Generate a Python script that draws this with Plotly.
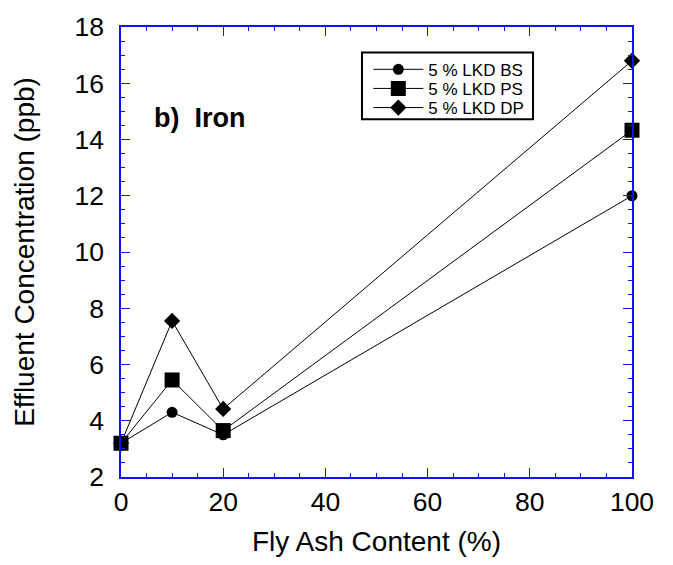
import plotly.graph_objects as go

# Fly ash content (%) on the x axis
fly_ash = [0, 10, 20, 100]

# Effluent iron concentration (ppb) for each LKD blend
lkd_bs = [3.2, 4.3, 3.5, 12.0]
lkd_ps = [3.2, 5.45, 3.65, 14.33]
lkd_dp = [3.2, 7.55, 4.42, 16.8]

series_names = ["5 % LKD BS", "5 % LKD PS", "5 % LKD DP"]

FONT = "Liberation Sans, Arial, sans-serif"
AXIS_BLUE = "#1010ff"

fig = go.Figure()

# one legend per series so the rows can sit close together inside one frame
styles = [
    (lkd_bs, "circle", 11, "legend"),
    (lkd_ps, "square", 15, "legend2"),
    (lkd_dp, "diamond", 12.5, "legend3"),
]
for name, (vals, symbol, size, leg) in zip(series_names, styles):
    fig.add_trace(go.Scatter(
        x=fly_ash, y=vals, name=name,
        mode="lines+markers",
        line=dict(color="black", width=1),
        marker=dict(symbol=symbol, size=size, color="black"),
        cliponaxis=False,
        legend=leg,
    ))

axis_common = dict(
    showline=True, linecolor=AXIS_BLUE, linewidth=1.5,
    mirror="ticks", ticks="inside", ticklen=9, tickwidth=1.2,
    tickcolor=AXIS_BLUE, showgrid=False, zeroline=False,
    tickfont=dict(family=FONT, size=26.5, color="black"),
)

fig.update_xaxes(
    range=[0, 100], dtick=20, tick0=0,
    minor=dict(dtick=5, ticks="inside", ticklen=4.5, tickcolor=AXIS_BLUE, tickwidth=1.2),
    title=dict(text="Fly Ash Content (%)", font=dict(family=FONT, size=28, color="black"), standoff=16),
    ticklabelstandoff=0,
    **axis_common,
)
fig.update_yaxes(
    range=[2, 18], dtick=2, tick0=2,
    minor=dict(dtick=0.5, ticks="inside", ticklen=4.5, tickcolor=AXIS_BLUE, tickwidth=1.2),
    title=dict(text="Effluent Concentration (ppb)", font=dict(family=FONT, size=28, color="black"), standoff=32),
    ticklabelstandoff=10,
    **axis_common,
)

fig.add_annotation(
    x=15.3, y=14.75, xref="x", yref="y",
    text="<b>b)  Iron</b>", showarrow=False,
    font=dict(family=FONT, size=27, color="black"),
    xanchor="center", yanchor="middle",
)

# legend frame
fig.add_shape(
    type="rect", xref="paper", yref="paper",
    x0=0.4716, x1=0.8063, y0=0.7948, y1=0.9432,
    line=dict(color="black", width=2), fillcolor="white", layer="below",
)

leg_common = dict(
    xanchor="left", yanchor="middle", x=0.484,
    bgcolor="rgba(0,0,0,0)", borderwidth=0,
    font=dict(family=FONT, size=17, color="black"),
    itemwidth=50,
)

fig.update_layout(
    width=673, height=565,
    margin=dict(l=121, r=41, t=19, b=88),
    paper_bgcolor="white", plot_bgcolor="white",
    showlegend=True,
    legend=dict(y=0.9050, **leg_common),
    legend2=dict(y=0.8625, **leg_common),
    legend3=dict(y=0.8200, **leg_common),
)

fig.write_html("out.html")
